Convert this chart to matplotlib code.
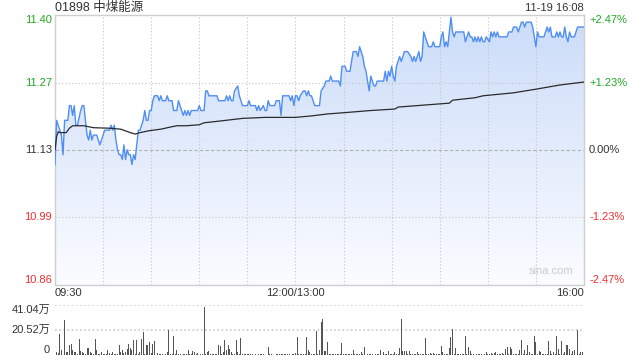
import matplotlib
matplotlib.use("Agg")
import matplotlib.pyplot as plt
import numpy as np
from matplotlib.colors import LinearSegmentedColormap
from matplotlib.patches import PathPatch
from matplotlib.transforms import blended_transform_factory

plt.rcParams['font.family'] = ['Liberation Sans', 'Noto Sans CJK SC', 'DejaVu Sans']

title = "01898 中煤能源"
stamp = "11-19 16:08"
prev_close = 11.13
span_pct = 2.47

# minute index from 09:30 (0) to 16:00 (330), lunch break squeezed out
price_min = [0, 1, 2, 4, 5, 6, 8, 9, 10, 11, 12, 13, 14, 16, 17, 18, 19, 20, 21, 22,
             23, 24, 26, 27, 28, 29, 30, 31, 34, 35, 36, 37, 38, 39, 40, 41, 42, 43, 44, 45,
             46, 47, 48, 49, 50, 51, 52, 53, 54, 55, 56, 57, 58, 59, 60, 61, 62, 63, 64, 65,
             66, 67, 69, 70, 71, 73, 74, 76, 77, 78, 80, 81, 82, 83, 84, 85, 89, 90, 91, 93,
             94, 95, 96, 101, 102, 106, 107, 108, 109, 110, 111, 112, 114, 115, 117, 120, 121, 122, 125, 126,
             127, 128, 130, 131, 132, 133, 134, 137, 138, 140, 141, 142, 146, 147, 148, 149, 150,
             151, 152, 153, 155, 156, 157, 158, 159, 160, 161, 162, 165, 166, 168, 169, 171, 172, 173,
             177, 178, 179, 181, 182, 184, 186, 188, 189, 190, 191, 192, 193, 194, 195, 196, 197, 198,
             199, 200, 201, 205, 206, 207, 208, 209, 210, 211, 212, 213, 214, 215, 216, 217, 218, 220,
             222, 223, 224, 225, 226, 227, 228, 229, 230, 231, 232, 233, 235, 236, 237, 240, 241, 242,
             243, 244, 245, 246, 247, 248, 249, 250, 255, 256, 257, 258, 259, 260, 261, 262, 263, 264,
             265, 266, 267, 268, 269, 271, 272, 273, 274, 275, 276, 277, 282, 283, 285, 286, 288, 289,
             290, 291, 292, 293, 294, 297, 298, 299, 300, 301, 302, 305, 306, 307, 308, 309, 310, 312,
             313, 314, 315, 316, 317, 318, 319, 320, 321, 322, 324, 326, 330]
price_val = [11.10, 11.19, 11.18, 11.16, 11.12, 11.19, 11.19, 11.22, 11.22, 11.20, 11.22, 11.18, 11.18, 11.21, 11.22, 11.22, 11.19, 11.16, 11.15, 11.17,
             11.15, 11.16, 11.16, 11.15, 11.14, 11.15, 11.16, 11.17, 11.17, 11.18, 11.17, 11.18, 11.15, 11.13, 11.12, 11.12, 11.11, 11.14, 11.11, 11.13,
             11.12, 11.12, 11.10, 11.12, 11.11, 11.14, 11.17, 11.17, 11.18, 11.19, 11.21, 11.19, 11.19, 11.21, 11.21, 11.23, 11.24, 11.24, 11.24, 11.23,
             11.24, 11.23, 11.23, 11.24, 11.23, 11.23, 11.21, 11.21, 11.23, 11.22, 11.20, 11.21, 11.20, 11.21, 11.20, 11.21, 11.21, 11.22, 11.21, 11.21,
             11.25, 11.25, 11.24, 11.24, 11.23, 11.23, 11.24, 11.23, 11.24, 11.23, 11.23, 11.25, 11.26, 11.24, 11.22, 11.22, 11.23, 11.22, 11.22, 11.21,
             11.22, 11.21, 11.22, 11.21, 11.21, 11.23, 11.22, 11.22, 11.23, 11.23, 11.20, 11.24, 11.24, 11.23, 11.24, 11.22, 11.24,
             11.24, 11.23, 11.24, 11.25, 11.25, 11.24, 11.25, 11.24, 11.24, 11.23, 11.22, 11.22, 11.25, 11.26, 11.27, 11.27, 11.28, 11.27,
             11.27, 11.26, 11.30, 11.30, 11.29, 11.29, 11.33, 11.33, 11.32, 11.34, 11.33, 11.32, 11.30, 11.29, 11.27, 11.25, 11.28, 11.27,
             11.26, 11.26, 11.27, 11.27, 11.29, 11.27, 11.29, 11.28, 11.30, 11.28, 11.27, 11.30, 11.31, 11.32, 11.31, 11.32, 11.33, 11.33,
             11.32, 11.31, 11.32, 11.31, 11.32, 11.33, 11.31, 11.32, 11.37, 11.36, 11.35, 11.34, 11.34, 11.35, 11.34, 11.34, 11.36, 11.37,
             11.34, 11.35, 11.34, 11.37, 11.40, 11.37, 11.36, 11.37, 11.37, 11.35, 11.36, 11.37, 11.36, 11.36, 11.35, 11.36, 11.35, 11.36,
             11.35, 11.36, 11.35, 11.35, 11.36, 11.35, 11.37, 11.36, 11.37, 11.36, 11.37, 11.36, 11.36, 11.37, 11.37, 11.38, 11.38, 11.37,
             11.38, 11.39, 11.39, 11.38, 11.39, 11.39, 11.38, 11.36, 11.34, 11.37, 11.36, 11.36, 11.37, 11.38, 11.37, 11.38, 11.36, 11.36,
             11.37, 11.36, 11.37, 11.36, 11.36, 11.38, 11.36, 11.35, 11.37, 11.36, 11.36, 11.38, 11.38]

avg_min = [0, 1, 2, 3, 7, 9, 11, 18, 24, 34, 41, 47, 50, 53, 59, 66, 73, 76, 82, 90,
           93, 104, 117, 131, 150, 160, 170, 182, 197, 212, 214, 230, 246, 248, 262, 267, 286, 301, 315, 330]
avg_val = [11.13, 11.157, 11.167, 11.165, 11.165, 11.174, 11.179, 11.179, 11.175, 11.174, 11.172, 11.165, 11.162, 11.165, 11.169, 11.172, 11.177, 11.179, 11.179, 11.181,
           11.185, 11.189, 11.194, 11.196, 11.196, 11.199, 11.203, 11.206, 11.210, 11.213, 11.217, 11.221, 11.225, 11.231, 11.236, 11.240, 11.246, 11.254, 11.262, 11.268]

# volume per minute, in 万 shares
volume = [2.7, 2.7, 1.5, 17.6, 4.0, 4.6, 29.0, 2.7, 2.7, 8.1,
          9.5, 4.0, 2.7, 2.7, 1.2, 13.5, 3.2, 2.7, 1.9, 1.0,
          6.2, 6.2, 2.7, 2.2, 1.0, 13.5, 4.0, 1.2, 1.4, 2.7,
          1.4, 0.8, 1.0, 4.0, 2.2, 1.0, 2.7, 1.4, 0.8, 1.2,
          8.1, 2.7, 4.0, 1.9, 2.7, 5.4, 9.5, 5.9, 4.0, 12.2,
          1.4, 12.2, 1.0, 2.7, 13.5, 19.0, 1.4, 8.1, 8.1, 10.8,
          2.0, 9.5, 11.4, 1.0, 1.9, 0.8, 1.4, 1.0, 11.4, 1.4,
          2.7, 20.3, 1.4, 0.8, 15.4, 1.0, 4.0, 0.8, 1.4, 0.6,
          1.4, 0.8, 1.0, 4.0, 1.4, 0.8, 3.5, 2.7, 0.8, 1.9,
          0.6, 1.4, 1.4, 39.0, 1.0, 2.7, 3.2, 0.8, 1.0, 1.4,
          0.8, 1.4, 8.1, 7.6, 1.0, 2.7, 12.2, 4.0, 8.1, 5.4,
          2.7, 1.4, 0.8, 12.2, 2.7, 0.8, 14.0, 1.4, 1.0, 0.8,
          1.2, 0.8, 1.0, 1.2, 0.6, 1.0, 3.5, 1.0, 0.8, 1.2,
          0.8, 1.0, 0.6, 6.8, 1.0, 0.8, 1.2, 0.6, 1.0, 0.8,
          1.2, 1.0, 0.8, 1.0, 1.2, 0.8, 1.0, 0.6, 1.2, 1.0,
          1.6, 14.9, 1.0, 1.4, 0.8, 1.2, 1.0, 14.9, 4.6, 2.7,
          1.0, 0.8, 1.2, 19.7, 1.4, 4.0, 27.0, 29.5, 3.2, 3.2,
          10.8, 1.0, 0.8, 1.2, 1.0, 0.8, 1.2, 1.0, 0.8, 10.0,
          1.0, 0.8, 1.2, 1.0, 0.8, 1.2, 4.0, 1.0, 0.8, 1.2,
          1.0, 2.7, 1.0, 6.5, 1.2, 0.8, 1.0, 1.2, 0.8, 1.0,
          0.8, 1.2, 1.0, 4.0, 1.0, 2.7, 0.8, 1.2, 3.2, 1.0,
          0.8, 1.2, 2.7, 1.0, 0.8, 6.0, 29.5, 3.8, 3.2, 3.8,
          1.4, 3.8, 1.0, 0.8, 1.2, 1.0, 2.7, 1.0, 0.8, 1.2,
          1.0, 14.0, 1.0, 0.8, 1.9, 1.0, 1.9, 0.8, 1.0, 1.2,
          0.8, 7.3, 2.7, 1.0, 1.4, 0.8, 6.0, 14.9, 21.6, 1.0,
          6.0, 1.2, 0.8, 1.4, 1.0, 0.8, 15.7, 1.2, 6.8, 3.2,
          1.0, 1.4, 0.8, 1.0, 1.2, 0.8, 1.0, 36.5, 1.0, 2.7,
          1.4, 1.0, 1.9, 1.0, 2.2, 2.7, 1.0, 0.8, 1.2, 1.9,
          1.0, 5.4, 6.8, 1.2, 6.8, 5.4, 1.0, 0.8, 1.2, 1.4,
          4.0, 12.2, 1.0, 4.0, 1.2, 8.6, 2.7, 1.0, 0.8, 15.7,
          10.8, 1.0, 3.5, 2.7, 1.0, 0.8, 1.2, 1.0, 11.4, 3.2,
          1.0, 2.7, 1.0, 15.4, 5.4, 1.2, 11.4, 1.0, 2.7, 8.1,
          8.1, 5.4, 1.0, 3.5, 4.0, 4.0, 20.3, 1.0, 2.7, 2.7,
          41.04]
vol_max = 41.04

green = '#22a722'
red = '#ee3030'
dark = '#333333'
grid_c = '#c4c4c4'

ylo = prev_close * (1 - span_pct / 100)
yhi = prev_close * (1 + span_pct / 100)
mid_up = prev_close * (1 + 1.23 / 100)
mid_dn = prev_close * (1 - 1.23 / 100)

fig = plt.figure(figsize=(6.4, 3.6), dpi=100)
ax = fig.add_axes([55 / 640, 1 - 284.8 / 360, 529 / 640, 270 / 360])
vax = fig.add_axes([55 / 640, 1 - 355.3 / 360, 529 / 640, 50.6 / 360])

# price panel
ax.set_xlim(0, 330)
ax.set_ylim(ylo, yhi)

poly = ax.fill_between(price_min, price_val, ylo, color='none', lw=0)
clip = PathPatch(poly.get_paths()[0], transform=ax.transData, facecolor='none', edgecolor='none')
ax.add_patch(clip)
cmap = LinearSegmentedColormap.from_list('fade', ['#fbfcff', '#cbdcf9'])
grad = np.linspace(0, 1, 256).reshape(-1, 1)
img = ax.imshow(grad, extent=[0, 330, ylo, yhi], origin='lower', aspect='auto',
                cmap=cmap, zorder=1)
img.set_clip_path(clip)

# grid drawn over the fill, as in the original
for m in range(30, 330, 30):
    ax.axvline(m, color=grid_c, lw=0.8, ls=(0, (1, 2)), zorder=2)
for lv in [mid_up, mid_dn]:
    ax.axhline(lv, color=grid_c, lw=0.8, ls=(0, (1, 2)), zorder=2)
ax.axhline(prev_close, color='#b0b0b0', lw=0.8, ls=(0, (3, 2)), zorder=2)

ax.plot(price_min, price_val, color='#4f8ef2', lw=1.0, zorder=3)
ax.plot(avg_min, avg_val, color='#2b2b2b', lw=0.9, zorder=3)

ax.set_xticks([])
ax.set_yticks([])
for s in ax.spines.values():
    s.set_color('#cfcfcf')
    s.set_linewidth(1)

tr_l = blended_transform_factory(fig.transFigure, ax.transData)
left_labels = [(yhi, '11.40', green, 'top'), (mid_up, '11.27', green, 'center'),
               (prev_close, '11.13', dark, 'center'), (mid_dn, '10.99', red, 'center'),
               (ylo, '10.86', red, 'bottom')]
right_labels = ['+2.47%', '+1.23%', '0.00%', '-1.23%', '-2.47%']
for (lv, txt, c, va), rtxt in zip(left_labels, right_labels):
    ax.text(52 / 640, lv, txt, transform=tr_l, ha='right', va=va, color=c, fontsize=8)
    ax.text(589 / 640, lv, rtxt, transform=tr_l, ha='left', va=va, color=c, fontsize=8)

fig.text(55 / 640, 1 - 8 / 360, title, ha='left', va='center', fontsize=9, color=dark)
fig.text(584 / 640, 1 - 8 / 360, stamp, ha='right', va='center', fontsize=8, color=dark)
fig.text(55 / 640, 1 - 293 / 360, '09:30', ha='left', va='center', fontsize=8, color=dark)
fig.text(295 / 640, 1 - 293 / 360, '12:00/13:00', ha='center', va='center', fontsize=8, color=dark)
fig.text(584 / 640, 1 - 293 / 360, '16:00', ha='right', va='center', fontsize=8, color=dark)
ax.text(0.98, 0.05, 'sina.com', transform=ax.transAxes, ha='right', va='center',
        fontsize=8, color='#cccccc')

# volume panel
vax.bar(np.arange(len(volume)), volume, width=0.6, color='#555555', lw=0)
vax.set_xlim(0, 330)
vax.set_ylim(0, vol_max)
for lv in [vol_max, vol_max / 2]:
    vax.axhline(lv, color='#cccccc', lw=1.2, ls=(0, (1, 1.5)), zorder=0)
vax.set_xticks([])
vax.set_yticks([])
for s in vax.spines.values():
    s.set_visible(False)
tr_v = blended_transform_factory(fig.transFigure, vax.transData)
vax.text(50 / 640, vol_max, '41.04万', transform=tr_v, ha='right', va='top', fontsize=8, color=dark)
vax.text(50 / 640, vol_max / 2, '20.52万', transform=tr_v, ha='right', va='center', fontsize=8, color=dark)
vax.text(50 / 640, 0, '0', transform=tr_v, ha='right', va='bottom', fontsize=8, color=dark)

fig.savefig('out.png', dpi=100)
